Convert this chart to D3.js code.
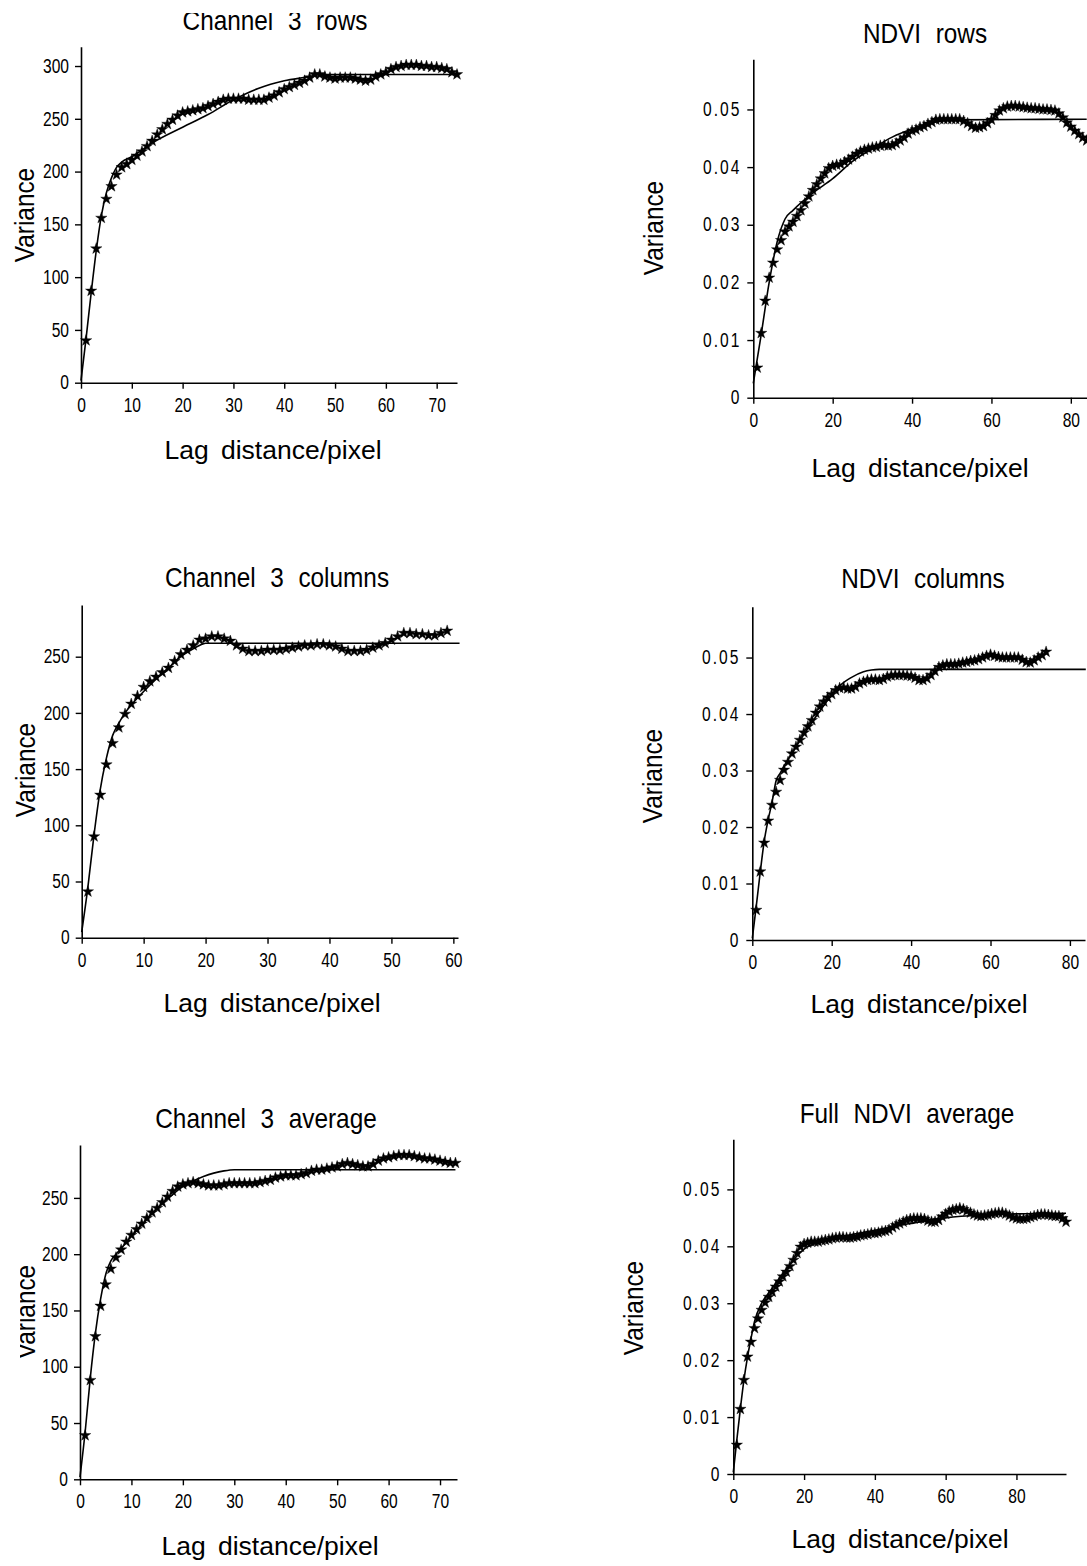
<!DOCTYPE html>
<html>
<head>
<meta charset="utf-8">
<script src="https://cdn.jsdelivr.net/npm/d3@7"></script>
<style>
  html, body { margin: 0; padding: 0; background: #fff; }
  svg { display: block; }
</style>
</head>
<body>
<svg id="chart" width="1087" height="1566"></svg>
<script>
// ---------------- DATA ----------------
// Experimental semivariogram values at lags 1..N (stars) and fitted model (solid line)

// Channel 3 rows
const ch3RowsVar = [40, 87, 127, 156, 174, 186, 197, 204, 207, 211, 215, 219, 224, 229, 235, 240, 245, 249, 253, 256,
  257, 258, 259, 260, 262, 264, 266, 268, 269, 269, 269, 269, 268, 268, 268, 268, 270, 272, 275, 278,
  280, 282, 284, 286, 289, 292, 292, 290, 289, 288, 289, 289, 289, 288, 287, 286, 287, 290, 292, 294,
  297, 299, 300, 301, 301, 301, 300, 300, 299, 299, 298, 297, 294, 292];
const ch3RowsFitLag = [0, 1, 2, 3, 4, 5, 6, 7, 8, 10, 14, 20, 25, 30, 35, 40, 45, 47, 74];
const ch3RowsFitVar = [2, 42, 85, 125, 158, 180, 194, 204, 209, 214, 227, 242, 254, 268, 279, 286, 290, 292, 292];
const ch3RowsXTicks = [0, 10, 20, 30, 40, 50, 60, 70];
const ch3RowsYTicks = [0, 50, 100, 150, 200, 250, 300];

// NDVI rows
const ndviRowsVar = [0.0052, 0.0112, 0.0168, 0.0208, 0.0234, 0.0257, 0.0273, 0.0288, 0.0297, 0.0305,
  0.0315, 0.0325, 0.0337, 0.0349, 0.0360, 0.0370, 0.0380, 0.0389, 0.0398, 0.0402,
  0.0404, 0.0405, 0.0409, 0.0413, 0.0418, 0.0423, 0.0427, 0.0430, 0.0432, 0.0434,
  0.0435, 0.0437, 0.0438, 0.0437, 0.0438, 0.0441, 0.0446, 0.0451, 0.0458, 0.0463,
  0.0465, 0.0469, 0.0471, 0.0475, 0.0478, 0.0482, 0.0483, 0.0483, 0.0483, 0.0483,
  0.0483, 0.0483, 0.0480, 0.0476, 0.0471, 0.0468, 0.0469, 0.0471, 0.0476, 0.0482,
  0.0490, 0.0498, 0.0502, 0.0505, 0.0506, 0.0506, 0.0505, 0.0504, 0.0503, 0.0502,
  0.0502, 0.0501, 0.0500, 0.0500, 0.0499, 0.0498, 0.0493, 0.0486, 0.0477, 0.0470,
  0.0463, 0.0457, 0.0451, 0.0446];
const ndviRowsFitLag = [0, 2, 4, 6, 8, 10, 15, 20, 25, 30, 35, 40, 45, 50, 84];
const ndviRowsFitVar = [0.0025, 0.011, 0.020, 0.027, 0.031, 0.0325, 0.0355, 0.0380, 0.0410, 0.0432, 0.0452, 0.0466, 0.0477, 0.0482, 0.0483];
const ndviRowsXTicks = [0, 20, 40, 60, 80];
const ndviRowsYTicks = [0, 0.01, 0.02, 0.03, 0.04, 0.05];

// Channel 3 columns
const ch3ColsVar = [41, 90, 127, 154, 173, 187, 199, 208, 215, 223, 228, 232, 236, 240, 246, 252, 256, 260, 265, 266,
  268, 268, 266, 264, 260, 257, 255, 255, 255, 256, 256, 256, 257, 258, 259, 260, 260, 261, 261, 260,
  259, 257, 255, 255, 255, 256, 258, 260, 262, 265, 268, 271, 271, 270, 270, 269, 269, 271, 273];
const ch3ColsFitLag = [0, 1, 2, 3, 4, 5, 6, 7, 8, 10, 12, 14, 16, 18, 19, 20, 61];
const ch3ColsFitVar = [5, 45, 92, 132, 160, 180, 191, 200, 207, 219, 230, 240, 250, 257, 260, 262, 262];
const ch3ColsXTicks = [0, 10, 20, 30, 40, 50, 60];
const ch3ColsYTicks = [0, 50, 100, 150, 200, 250];

// NDVI columns
const ndviColsVar = [0.0053, 0.0121, 0.0172, 0.0211, 0.0239, 0.0262, 0.0283, 0.0301, 0.0315, 0.0330,
  0.0342, 0.0354, 0.0367, 0.0378, 0.0389, 0.0402, 0.0413, 0.0422, 0.0429, 0.0435,
  0.0442, 0.0446, 0.0447, 0.0445, 0.0445, 0.0448, 0.0454, 0.0457, 0.0460, 0.0461,
  0.0461, 0.0460, 0.0462, 0.0466, 0.0468, 0.0469, 0.0469, 0.0469, 0.0468, 0.0467,
  0.0464, 0.0460, 0.0460, 0.0463, 0.0469, 0.0476, 0.0483, 0.0486, 0.0488, 0.0488,
  0.0488, 0.0489, 0.0491, 0.0492, 0.0494, 0.0495, 0.0497, 0.0500, 0.0503, 0.0505,
  0.0503, 0.0501, 0.0500, 0.0500, 0.0500, 0.0500, 0.0500, 0.0496, 0.0492, 0.0491,
  0.0495, 0.0500, 0.0504, 0.0510];
const ndviColsFitLag = [0, 1, 2, 3, 4, 5, 6, 7, 8, 10, 12, 15, 18, 20, 22, 25, 28, 30, 32, 84];
const ndviColsFitVar = [0.0003, 0.006, 0.012, 0.0175, 0.0213, 0.0245, 0.0282, 0.0295, 0.0308, 0.0330, 0.0353, 0.0385, 0.0415, 0.0434, 0.0450, 0.0465, 0.0475, 0.0478, 0.0479, 0.0479];
const ndviColsXTicks = [0, 20, 40, 60, 80];
const ndviColsYTicks = [0, 0.01, 0.02, 0.03, 0.04, 0.05];

// Channel 3 average
const ch3AvgVar = [39, 88, 127, 154, 173, 187, 197, 204, 211, 217, 222, 227, 232, 237, 241, 246, 251, 256, 260, 262,
  263, 264, 263, 262, 261, 261, 261, 262, 263, 263, 263, 263, 263, 263, 264, 265, 266, 268, 269, 270,
  270, 270, 271, 272, 274, 275, 275, 276, 277, 278, 280, 281, 280, 279, 278, 278, 280, 283, 285, 286,
  287, 288, 288, 288, 287, 286, 285, 285, 284, 283, 282, 281, 281];
const ch3AvgFitLag = [0, 1, 2, 3, 4, 5, 6, 7, 8, 10, 12, 14, 16, 18, 20, 22, 24, 26, 28, 30, 73];
const ch3AvgFitVar = [2, 42, 90, 130, 160, 182, 194, 200, 205, 216, 226, 236, 245, 253, 260, 265, 269, 272, 274, 275, 275];
const ch3AvgXTicks = [0, 10, 20, 30, 40, 50, 60, 70];
const ch3AvgYTicks = [0, 50, 100, 150, 200, 250];

// Full NDVI average
const ndviAvgVar = [0.0051, 0.0114, 0.0165, 0.0206, 0.0232, 0.0256, 0.0273, 0.0288, 0.0301, 0.0311,
  0.0320, 0.0329, 0.0338, 0.0347, 0.0355, 0.0365, 0.0376, 0.0388, 0.0399, 0.0404,
  0.0406, 0.0408, 0.0408, 0.0408, 0.0410, 0.0411, 0.0412, 0.0414, 0.0415, 0.0416,
  0.0416, 0.0415, 0.0415, 0.0416, 0.0417, 0.0419, 0.0420, 0.0421, 0.0423, 0.0423,
  0.0424, 0.0426, 0.0427, 0.0429, 0.0433, 0.0437, 0.0440, 0.0443, 0.0446, 0.0448,
  0.0449, 0.0449, 0.0449, 0.0448, 0.0445, 0.0443, 0.0443, 0.0446, 0.0452, 0.0457,
  0.0461, 0.0464, 0.0465, 0.0467, 0.0465, 0.0462, 0.0459, 0.0456, 0.0454, 0.0453,
  0.0454, 0.0455, 0.0457, 0.0458, 0.0459, 0.0459, 0.0457, 0.0454, 0.0451, 0.0449,
  0.0448, 0.0448, 0.0449, 0.0451, 0.0453, 0.0455, 0.0456, 0.0456, 0.0455, 0.0454,
  0.0453, 0.0453, 0.0449, 0.0443];
const ndviAvgFitLag = [0, 1, 2, 3, 4, 5, 6, 8, 10, 12, 15, 18, 20, 25, 30, 40, 50, 60, 70, 80, 94];
const ndviAvgFitVar = [0.0003, 0.006, 0.0115, 0.0165, 0.0205, 0.0238, 0.0268, 0.0300, 0.0318, 0.0335, 0.0360, 0.0383, 0.0395, 0.0408, 0.0416, 0.0428, 0.0440, 0.0450, 0.0455, 0.0457, 0.0458];
const ndviAvgXTicks = [0, 20, 40, 60, 80];
const ndviAvgYTicks = [0, 0.01, 0.02, 0.03, 0.04, 0.05];

const xLabelText = "Lag distance/pixel";
const yLabelText = "Variance";

// ---------------- LAYOUT ----------------
const FONT = "'Liberation Sans', Arial, sans-serif";
const fmtInt = d3.format("d");
const fmtNdvi = d => d === 0 ? "0" : d3.format(".2f")(d);

const panels = [
  { title: "Channel 3 rows", values: ch3RowsVar, fitLag: ch3RowsFitLag, fitVar: ch3RowsFitVar,
    xTicks: ch3RowsXTicks, yTicks: ch3RowsYTicks, yFmt: fmtInt, ndvi: false,
    xDomain: [0, 74], yDomain: [0, 318.3], xr: [81, 457], yr: [382.7, 46.7],
    titleX: 275, titleY: 30, titleClipTop: 13, yLabX: 34, yLabY: 215, xLabX: 273, xLabY: 459 },
  { title: "NDVI rows", values: ndviRowsVar, fitLag: ndviRowsFitLag, fitVar: ndviRowsFitVar,
    xTicks: ndviRowsXTicks, yTicks: ndviRowsYTicks, yFmt: fmtNdvi, ndvi: true,
    xDomain: [0, 84], yDomain: [0, 0.0587], xr: [753.3, 1086.7], yr: [397.7, 59.3],
    titleX: 925, titleY: 43, yLabX: 663, yLabY: 228, xLabX: 920, xLabY: 477 },
  { title: "Channel 3 columns", values: ch3ColsVar, fitLag: ch3ColsFitLag, fitVar: ch3ColsFitVar,
    xTicks: ch3ColsXTicks, yTicks: ch3ColsYTicks, yFmt: fmtInt, ndvi: false,
    xDomain: [0, 60.75], yDomain: [0, 296], xr: [81.7, 458], yr: [937.7, 605],
    titleX: 277, titleY: 587, yLabX: 35, yLabY: 770, xLabX: 272, xLabY: 1012 },
  { title: "NDVI columns", values: ndviColsVar, fitLag: ndviColsFitLag, fitVar: ndviColsFitVar,
    xTicks: ndviColsXTicks, yTicks: ndviColsYTicks, yFmt: fmtNdvi, ndvi: true,
    xDomain: [0, 83.8], yDomain: [0, 0.059], xr: [752.3, 1085], yr: [940, 606.7],
    titleX: 923, titleY: 588, yLabX: 662, yLabY: 776, xLabX: 919, xLabY: 1013 },
  { title: "Channel 3 average", values: ch3AvgVar, fitLag: ch3AvgFitLag, fitVar: ch3AvgFitVar,
    xTicks: ch3AvgXTicks, yTicks: ch3AvgYTicks, yFmt: fmtInt, ndvi: false,
    xDomain: [0, 73.3], yDomain: [0, 297], xr: [80, 457], yr: [1479.3, 1145],
    titleX: 266, titleY: 1128, yLabX: 35, yLabY: 1312, yLabClipLeft: 20, xLabX: 270, xLabY: 1555 },
  { title: "Full NDVI average", values: ndviAvgVar, fitLag: ndviAvgFitLag, fitVar: ndviAvgFitVar,
    xTicks: ndviAvgXTicks, yTicks: ndviAvgYTicks, yFmt: fmtNdvi, ndvi: true,
    xDomain: [0, 94], yDomain: [0, 0.0588], xr: [733.3, 1066], yr: [1474, 1139.3],
    titleX: 907, titleY: 1123, yLabX: 643, yLabY: 1308, xLabX: 900, xLabY: 1548 }
];

const svg = d3.select("#chart");
svg.append("rect").attr("width", 1087).attr("height", 1566).attr("fill", "#fff");
const defs = svg.append("defs");

const star = d3.symbol().type(d3.symbolStar).size(40);
const TICK_SX = 0.8;   // narrow plotter-style digits

panels.forEach((p, pi) => {
  const x = d3.scaleLinear().domain(p.xDomain).range(p.xr);
  const y = d3.scaleLinear().domain(p.yDomain).range(p.yr);
  const g = svg.append("g");

  // axes
  const gx = g.append("g").attr("transform", `translate(0,${p.yr[0]})`)
    .call(d3.axisBottom(x).tickValues(p.xTicks).tickFormat(fmtInt).tickSize(6).tickSizeOuter(0).tickPadding(9));
  const gy = g.append("g").attr("transform", `translate(${p.xr[0]},0)`)
    .call(d3.axisLeft(y).tickValues(p.yTicks).tickFormat(p.yFmt).tickSize(6).tickSizeOuter(0).tickPadding(6));
  [gx, gy].forEach(a => {
    a.attr("font-family", null).attr("font-size", null);
    a.select(".domain").attr("stroke", "#000").attr("stroke-width", 1.6);
    a.selectAll(".tick line").attr("stroke", "#000").attr("stroke-width", 1.4);
    a.selectAll(".tick text").attr("fill", "#000").style("font-family", FONT).style("font-size", "19.5px");
  });
  gx.selectAll(".tick text").attr("transform", `scale(${TICK_SX},1)`);
  gy.selectAll(".tick text").each(function () {
    const tx = +d3.select(this).attr("x");
    d3.select(this)
      .style("letter-spacing", p.ndvi ? "2.5px" : "0px")
      .attr("transform", `translate(${tx},0) scale(${TICK_SX},1) translate(${-tx},0)`);
  });

  // fitted model line
  const line = d3.line().x((d, i) => x(p.fitLag[i])).y((d, i) => y(p.fitVar[i])).curve(d3.curveMonotoneX);
  g.append("path").datum(p.fitVar).attr("d", line)
    .attr("fill", "none").attr("stroke", "#000").attr("stroke-width", 1.6);

  // experimental points (stars)
  g.selectAll("path.pt").data(p.values).enter().append("path").attr("class", "pt")
    .attr("d", star)
    .attr("transform", (d, i) => `translate(${x(i + 1)},${y(d)})`)
    .attr("fill", "#000").attr("stroke", "#000").attr("stroke-width", 0.4);

  // title
  const tg = g.append("g");
  if (p.titleClipTop) {
    defs.append("clipPath").attr("id", "tclip" + pi).append("rect")
      .attr("x", 0).attr("y", p.titleClipTop).attr("width", 1087).attr("height", 60);
    tg.attr("clip-path", `url(#tclip${pi})`);
  }
  tg.append("text").attr("transform", `translate(${p.titleX},${p.titleY}) scale(0.87,1)`).attr("text-anchor", "middle")
    .style("font-family", FONT).style("font-size", "28px").style("word-spacing", "9px")
    .text(p.title);

  // y label
  const yg = g.append("g");
  if (p.yLabClipLeft) {
    defs.append("clipPath").attr("id", "yclip" + pi).append("rect")
      .attr("x", p.yLabClipLeft).attr("y", p.yLabY - 80).attr("width", 60).attr("height", 160);
    yg.attr("clip-path", `url(#yclip${pi})`);
  }
  yg.append("text").attr("transform", `translate(${p.yLabX},${p.yLabY}) rotate(-90) scale(0.87,1)`).attr("text-anchor", "middle")
    .style("font-family", FONT).style("font-size", "28px")
    .text(yLabelText);

  // x label
  g.append("text").attr("x", p.xLabX).attr("y", p.xLabY).attr("text-anchor", "middle")
    .style("font-family", FONT).style("font-size", "26.5px").style("word-spacing", "5px")
    .text(xLabelText);
});
</script>
</body>
</html>
